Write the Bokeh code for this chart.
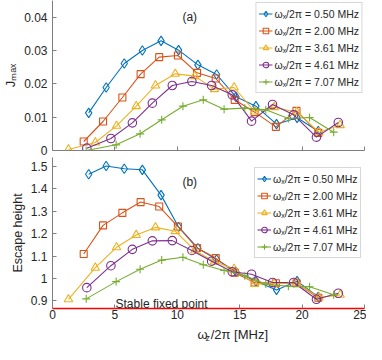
from bokeh.plotting import figure
from bokeh.models import Label, Range1d, FixedTicker, CustomJSTickFormatter
from bokeh.layouts import column
from bokeh.embed import file_html
from bokeh.resources import INLINE

FONT = "Liberation Sans"

# ---------------- data ----------------
x_ticks = [0, 5, 10, 15, 20, 25]
jmax_ticks = [0, 0.01, 0.02, 0.03, 0.04]
esc_ticks = [0.9, 1.0, 1.1, 1.2, 1.3, 1.4, 1.5]

series_labels = ["ωₓ/2π = 0.50 MHz", "ωₓ/2π = 2.00 MHz", "ωₓ/2π = 3.61 MHz",
                 "ωₓ/2π = 4.61 MHz", "ωₓ/2π = 7.07 MHz"]

x_blue = [2.9, 4.3, 5.75, 7.2, 8.7, 10.1, 11.65, 13.15, 14.7, 16.3, 17.95, 19.6, 21.3]
jmax_blue = [0.0113, 0.0189, 0.0261, 0.0300, 0.0329, 0.0301, 0.0257, 0.0228, 0.0161, 0.0133, 0.0079, 0.0098, 0.0058]
esc_blue = [1.465, 1.502, 1.490, 1.485, 1.372, 1.230, 1.135, 1.085, 1.030, 0.988, 0.949, 0.988, 0.918]

x_orange = [2.5, 4.05, 5.6, 7.06, 8.55, 10.05, 11.58, 13.08, 14.6, 16.2, 17.9, 19.55, 21.3]
jmax_orange = [0.0027, 0.0087, 0.0159, 0.0229, 0.0280, 0.0285, 0.0233, 0.0216, 0.0152, 0.0115, 0.0071, 0.0119, 0.0053]
esc_orange = [1.109, 1.237, 1.293, 1.341, 1.321, 1.232, 1.136, 1.091, 1.026, 0.982, 0.979, 0.979, 0.914]

x_yellow = [1.28, 3.43, 5.13, 6.71, 8.25, 9.84, 11.4, 12.97, 14.55, 16.2, 17.76, 19.57, 21.35, 23.05]
jmax_yellow = [0.0003, 0.0024, 0.0074, 0.0133, 0.0195, 0.0230, 0.0223, 0.0184, 0.0189, 0.0117, 0.0130, 0.0115, 0.0055, 0.0076]
esc_yellow = [0.907, 1.048, 1.139, 1.194, 1.228, 1.211, 1.125, 1.075, 1.043, 0.975, 0.978, 0.980, 0.915, 0.927]

x_purple = [2.75, 4.68, 6.4, 8.0, 9.6, 11.17, 12.75, 14.4, 15.95, 17.63, 19.32, 21.15, 22.9]
jmax_purple = [0.0007, 0.0036, 0.0083, 0.0142, 0.0195, 0.0207, 0.0195, 0.0167, 0.0088, 0.0138, 0.0107, 0.0040, 0.0084]
esc_purple = [0.959, 1.057, 1.130, 1.168, 1.169, 1.125, 1.077, 1.030, 1.019, 0.982, 0.982, 0.907, 0.934]

x_green = [2.7, 5.1, 7.02, 8.75, 10.45, 12.08, 13.75, 15.41, 17.09, 18.9, 20.6, 22.53]
jmax_green = [0.0000, 0.0017, 0.0050, 0.0092, 0.0133, 0.0152, 0.0124, 0.0127, 0.0122, 0.0096, 0.0099, 0.0055]
esc_green = [0.909, 0.986, 1.041, 1.082, 1.095, 1.061, 1.036, 1.012, 0.975, 0.965, 0.963, 0.927]

colors = ["#0072BD", "#D95319", "#EDB120", "#7E2F8E", "#77AC30"]
markers = ["diamond", "square", "triangle", "circle", "cross"]
msizes = [9.5, 7, 8.5, 8.5, 8]

xs = [x_blue, x_orange, x_yellow, x_purple, x_green]
jm = [jmax_blue, jmax_orange, jmax_yellow, jmax_purple, jmax_green]
es = [esc_blue, esc_orange, esc_yellow, esc_purple, esc_green]

fmt = CustomJSTickFormatter(code="""
let s = tick.toFixed(2);
s = s.replace(/0+$/, '');
s = s.replace(/\\.$/, '');
return s;
""")

AX = "#7f7f7f"
TXT = "#262626"
W = 366


def style(p):
    p.outline_line_color = None
    p.xgrid.visible = False
    p.ygrid.visible = False
    for ax in (p.xaxis[0], p.yaxis[0]):
        ax.axis_line_color = AX
        ax.axis_line_width = 1
        ax.major_tick_line_color = AX
        ax.major_tick_in = 4
        ax.major_tick_out = 0
        ax.minor_tick_line_color = None
        ax.major_label_text_font = FONT
        ax.major_label_text_font_size = "12px"
        ax.major_label_text_color = TXT
        ax.axis_label_text_font = FONT
        ax.axis_label_text_font_size = "12.5px"
        ax.axis_label_text_font_style = "normal"
        ax.axis_label_text_color = TXT
        ax.axis_label_standoff = 3
    p.xaxis[0].ticker = FixedTicker(ticks=x_ticks)
    p.yaxis[0].major_label_standoff = 5
    p.xaxis[0].major_label_standoff = 1


def draw(p, yvals):
    for i in range(5):
        p.line(xs[i], yvals[i], line_color=colors[i], line_width=1.1,
               legend_label=series_labels[i])
        p.scatter(xs[i], yvals[i], marker=markers[i], size=msizes[i],
                  line_color=colors[i], fill_color=None, line_width=1.1,
                  legend_label=series_labels[i])


def style_legend(p, loc, margin=0):
    lg = p.legend[0]
    lg.location = loc
    lg.label_text_font = FONT
    lg.label_text_font_size = "10.5px"
    lg.label_text_color = TXT
    lg.label_height = 17
    lg.glyph_height = 17
    lg.glyph_width = 14
    lg.label_standoff = 2
    lg.padding = 2
    lg.spacing = 0
    lg.margin = margin
    lg.border_line_color = "#b0b0b0"
    lg.border_line_width = 1
    lg.background_fill_color = "white"
    lg.background_fill_alpha = 1.0


# ---------------- top panel ----------------
p1 = figure(width=W, height=157, output_backend="svg", toolbar_location=None, title=None,
            x_range=Range1d(0, 25), y_range=Range1d(0, 0.045),
            min_border_left=48, min_border_right=2, min_border_top=0,
            min_border_bottom=7)
style(p1)
p1.yaxis[0].ticker = FixedTicker(ticks=jmax_ticks)
p1.yaxis[0].formatter = fmt
p1.yaxis[0].axis_label = "Jₘₐₓ"
p1.yaxis[0].axis_label_text_font_size = "13px"
p1.xaxis[0].major_label_text_color = None
p1.xaxis[0].major_label_standoff = 0
draw(p1, jm)
style_legend(p1, "top_right", margin=2)
p1.add_layout(Label(x=11.0, y=0.040, text="(a)", text_align="center",
                    text_baseline="middle", text_font=FONT, text_font_size="12px",
                    text_color=TXT))

# ---------------- bottom panel ----------------
p2 = figure(width=W, height=165, output_backend="svg", toolbar_location=None, title=None,
            x_range=Range1d(0, 25), y_range=Range1d(0.866, 1.54),
            min_border_left=48, min_border_right=2, min_border_top=0,
            min_border_bottom=14)
style(p2)
p2.yaxis[0].ticker = FixedTicker(ticks=esc_ticks)
p2.yaxis[0].formatter = fmt
p2.yaxis[0].axis_label = "Escape height"
p2.xaxis[0].axis_line_color = "#ff0000"
p2.xaxis[0].axis_line_width = 1.5
draw(p2, es)
style_legend(p2, (202, 50))
p2.add_layout(Label(x=11.0, y=1.43, text="(b)", text_align="center",
                    text_baseline="middle", text_font=FONT, text_font_size="12px",
                    text_color=TXT))
p2.add_layout(Label(x=5.05, y=0.884, text="Stable fixed point", text_align="left",
                    text_baseline="alphabetic", text_font=FONT, text_font_size="12px",
                    text_color=TXT))

# ---------------- x-axis title strip: ω_z/2π [MHz] ----------------
p3 = figure(width=W, height=22, output_backend="svg", toolbar_location=None, title=None,
            x_range=Range1d(0, W), y_range=Range1d(0, 22),
            x_axis_type=None, y_axis_type=None, min_border=0)
p3.outline_line_color = None
p3.xgrid.visible = False
p3.ygrid.visible = False
p3.add_layout(Label(x=170, y=10, text="ω", text_align="left", text_baseline="alphabetic",
                    text_font=FONT, text_font_size="13px", text_color=TXT))
p3.add_layout(Label(x=179.5, y=6.5, text="z", text_align="left", text_baseline="alphabetic",
                    text_font=FONT, text_font_size="9px", text_color=TXT))
p3.add_layout(Label(x=185.5, y=10, text="/2π [MHz]", text_align="left",
                    text_baseline="alphabetic", text_font=FONT, text_font_size="13px",
                    text_color=TXT))

layout = column(p1, p2, p3, spacing=0)
open("out.html", "w").write(file_html(layout, INLINE))
